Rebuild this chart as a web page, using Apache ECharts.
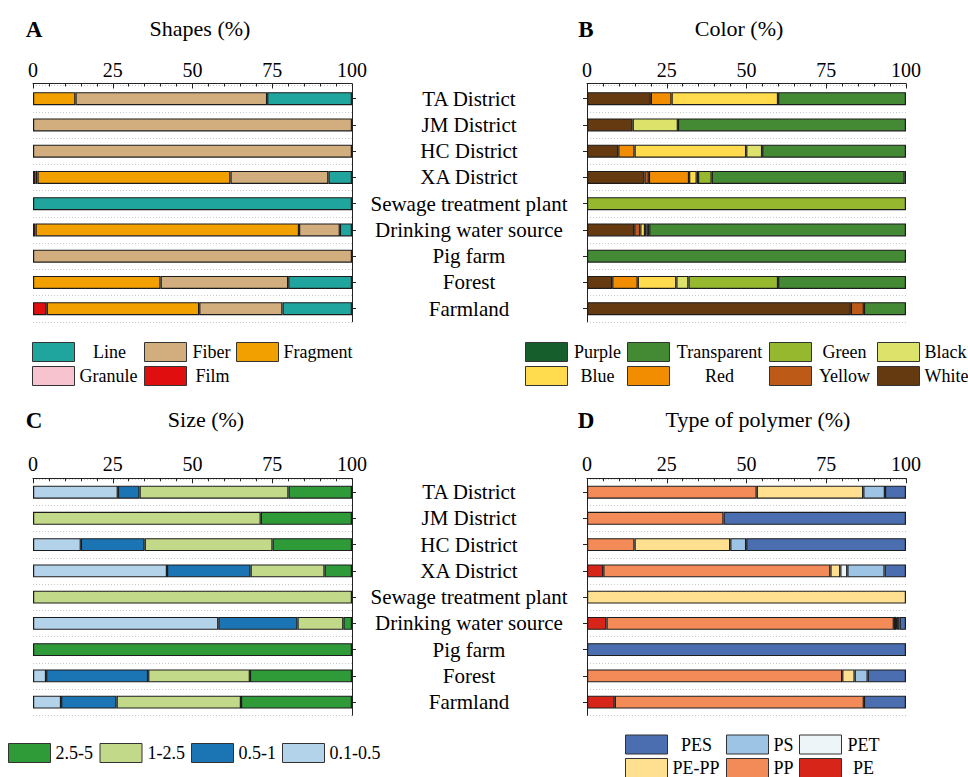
<!DOCTYPE html>
<html><head><meta charset="utf-8">
<script src="https://cdn.jsdelivr.net/npm/echarts@6/dist/echarts.min.js"></script>
<style>html,body{margin:0;padding:0;background:#fff}#c{width:968px;height:777px}</style>
</head><body><div id="c"></div>
<script>
// ---------- DATA ----------
const categories = ['TA District','JM District','HC District','XA District','Sewage treatment plant','Drinking water source','Pig farm','Forest','Farmland'];
const xTicks = [0, 25, 50, 75, 100];

// A: Shapes (%) - stacked left to right
const shapeNames = ['Film','Granule','Fragment','Fiber','Line'];
const shapeFilm     = [0, 0, 0, 0.8, 0, 0.8, 0, 0, 4.3];
const shapeGranule  = [0, 0, 0, 0.6, 0, 0, 0, 0, 0];
const shapeFragment = [13.3, 0, 0, 60.5, 0, 82.6, 0, 40.0, 47.8];
const shapeFiber    = [60.1, 100, 100, 30.7, 0, 12.8, 100, 40.0, 26.1];
const shapeLine     = [26.6, 0, 0, 7.4, 100, 3.8, 0, 20.0, 21.8];

// B: Color (%)
const colorNames = ['White','Yellow','Red','Blue','Black','Green','Transparent','Purple'];
const colWhite       = [20.0, 14.3, 9.8, 18.0, 0, 14.8, 0, 7.9, 82.7];
const colYellow      = [0, 0, 0, 1.4, 0, 1.9, 0, 0, 4.1];
const colRed         = [6.5, 0, 5.1, 12.6, 0, 0, 0, 8.0, 0];
const colBlue        = [33.4, 0, 35.0, 2.4, 0, 1.5, 0, 12.1, 0];
const colBlack       = [0, 14.2, 5.0, 0.4, 0, 0.5, 0, 3.8, 0];
const colGreen       = [0, 0, 0, 4.3, 100, 0.8, 0, 28.1, 0];
const colTransparent = [40.1, 71.5, 45.1, 60.5, 0, 80.5, 100, 40.1, 13.2];
const colPurple      = [0, 0, 0, 0.4, 0, 0, 0, 0, 0];

// C: Size (%)
const sizeNames = ['0.1-0.5','0.5-1','1-2.5','2.5-5'];
const size01 = [26.6, 0, 15.0, 42.0, 0, 58.1, 0, 4.1, 8.8];
const size05 = [6.8, 0, 20.0, 26.2, 0, 24.8, 0, 32.0, 17.4];
const size1  = [46.7, 71.4, 40.1, 23.2, 100, 14.4, 0, 31.9, 39.0];
const size25 = [19.9, 28.6, 24.9, 8.6, 0, 2.7, 100, 32.0, 34.8];

// D: Type of polymer (%)
const polyNames = ['PE','PP','PE-PP','PET','PS','PES'];
const polyPE   = [0, 0, 0, 5.1, 0, 6.1, 0, 0, 8.7];
const polyPP   = [53.2, 42.8, 14.9, 71.2, 0, 90.1, 0, 80.0, 78.1];
const polyPEPP = [33.4, 0, 30.0, 3.1, 100, 0.7, 0, 3.9, 0];
const polyPET  = [0, 0, 0, 2.2, 0, 0.3, 0, 0, 0];
const polyPS   = [6.8, 0, 5.0, 11.7, 0, 0.8, 0, 4.1, 0];
const polyPES  = [6.6, 57.2, 50.1, 6.7, 0, 2.0, 100, 12.0, 13.2];

// ---------- STYLE ----------
const FONT = 'Liberation Serif, Times New Roman, serif';
const palette = {
  'Film':'#E00E0E','Granule':'#F7C3CF','Fragment':'#F2A000','Fiber':'#D2AD7D','Line':'#1FA59E',
  'White':'#653A10','Yellow':'#BE5A17','Red':'#F28C00','Blue':'#FFDB4D','Black':'#DDE26A','Green':'#95B82E','Transparent':'#448A34','Purple':'#165F2D',
  '0.1-0.5':'#B3D3EA','0.5-1':'#1B74B4','1-2.5':'#C1D989','2.5-5':'#2E9A38',
  'PE':'#D7251A','PP':'#F28B58','PE-PP':'#FEE090','PET':'#EEF5F8','PS':'#9DC3E5','PES':'#4A6EB0'
};

const chart = echarts.init(document.getElementById('c'), null, {renderer:'svg'});

const grids = [
  {left:33, top:85.5, width:319, height:236.25},
  {left:587, top:85.5, width:319, height:236.25},
  {left:33, top:479, width:319, height:236.25},
  {left:587, top:479, width:319, height:236.25}
];
function xAx(i, offset){
  return {gridIndex:i, type:'value', position:'top', min:xTicks[0], max:xTicks[xTicks.length-1], interval:xTicks[1]-xTicks[0], offset:offset,
    axisLine:{show:true, onZero:false, lineStyle:{color:'#222', width:1}},
    axisTick:{show:true, inside:true, length:5, lineStyle:{color:'#222'}},
    minorTick:{show:true, splitNumber:5, length:3, lineStyle:{color:'#222'}},
    axisLabel:{fontFamily:FONT, fontSize:20, color:'#000', margin:4},
    splitLine:{show:false}};
}
function yAx(i, pos, showLabels){
  return {gridIndex:i, type:'category', data:categories, inverse:true, position:pos,
    axisLine:{show:true, onZero:false, lineStyle:{color:'#222', width:1}},
    axisTick:{show:true, alignWithLabel:true, interval:0, length:4, lineStyle:{color:'#222'}},
    axisLabel:{show:showLabels, interval:0, fontFamily:FONT, fontSize:21, color:'#000', align:'center', margin:117},
    splitLine:{show:true, interval:0, lineStyle:{color:'#c8c8c8', type:[1,2], width:1}}};
}
function mk(names, arrays, gi){
  return names.map((n, k) => ({
    name:n, type:'bar', stack:'p'+gi, xAxisIndex:gi, yAxisIndex:gi, barWidth:13, silent:true,
    itemStyle:{color:palette[n], borderColor:'#1c1c1c', borderWidth:1.2},
    emphasis:{disabled:true},
    data:arrays[k].map(v => v === 0 ? '-' : v)
  }));
}
const series = [].concat(
  mk(shapeNames, [shapeFilm, shapeGranule, shapeFragment, shapeFiber, shapeLine], 0),
  mk(colorNames, [colWhite, colYellow, colRed, colBlue, colBlack, colGreen, colTransparent, colPurple], 1),
  mk(sizeNames, [size01, size05, size1, size25], 2),
  mk(polyNames, [polyPE, polyPP, polyPEPP, polyPET, polyPS, polyPES], 3)
);

// legends: one component per item, placed like the reference
const LFS = 18;
const cv = document.createElement('canvas').getContext('2d');
cv.font = LFS + 'px ' + FONT;
function tw(t){ return cv.measureText(t).width; }
function leg(name, sx, sy, mode, tx){
  const sw = 42;
  let left = mode === 'c' ? tx - tw(name)/2 : tx;
  let pad = Math.max(0, left - (sx + sw + 5));
  return {data:[name], left:sx, top:sy, orient:'horizontal', padding:0, itemWidth:sw, itemHeight:19, icon:'rect',
    selectedMode:false, itemStyle:{borderColor:'#333', borderWidth:1},
    textStyle:{fontFamily:FONT, fontSize:LFS, color:'#000', lineHeight:19, padding:[0,0,0,pad]}};
}
const legends = [
  leg('Line', 32, 342, 'c', 109), leg('Fiber', 144, 342, 'c', 211), leg('Fragment', 236, 342, 'l', 283),
  leg('Granule', 32, 366, 'c', 108), leg('Film', 144, 366, 'c', 212),
  leg('Purple', 525, 342, 'c', 597), leg('Transparent', 627, 342, 'c', 719), leg('Green', 769, 342, 'c', 844), leg('Black', 877, 342, 'l', 922),
  leg('Blue', 525, 366, 'c', 597), leg('Red', 627, 366, 'c', 719), leg('Yellow', 769, 366, 'c', 844), leg('White', 877, 366, 'l', 922),
  leg('2.5-5', 8, 743, 'l', 55), leg('1-2.5', 99.5, 743, 'l', 147), leg('0.5-1', 191, 743, 'l', 237), leg('0.1-0.5', 282, 743, 'l', 328),
  leg('PES', 625, 734.5, 'c', 696), leg('PS', 726, 734.5, 'l', 773), leg('PET', 799, 734.5, 'l', 847),
  leg('PE-PP', 625, 758, 'c', 695), leg('PP', 726, 758, 'l', 773), leg('PE', 799, 758, 'c', 863)
];

function ttl(t, x, y, bold, size){
  return {type:'text', x:x, y:y, silent:true,
    style:{text:t, fontFamily:FONT, fontSize:size, fontWeight:bold?'bold':'normal', fill:'#000', align:'center', verticalAlign:'middle'}};
}

chart.setOption({
  animation:false,
  backgroundColor:'#fff',
  grid:grids,
  xAxis:[xAx(0,2), xAx(1,2), xAx(2,0.7), xAx(3,0.7)],
  yAxis:[yAx(0,'right',true), yAx(1,'left',false), yAx(2,'right',true), yAx(3,'left',false)],
  legend:legends,
  series:series,
  graphic:[
    ttl('A', 34, 29, true, 23), ttl('Shapes (%)', 200, 28, false, 22),
    ttl('B', 586, 29, true, 23), ttl('Color (%)', 739, 28, false, 22),
    ttl('C', 34, 420, true, 23), ttl('Size (%)', 206, 419, false, 22),
    ttl('D', 586, 420, true, 23), ttl('Type of polymer (%)', 758, 419, false, 22)
  ]
});
</script></body></html>
